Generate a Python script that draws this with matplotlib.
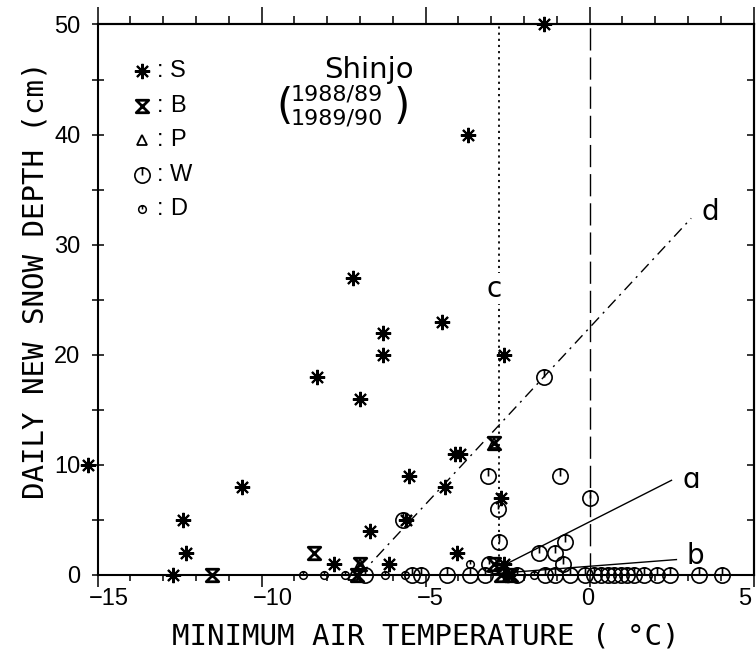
"""Snow depth vs minimum air temperature, Shinjo 1988/89-1989/90."""

import matplotlib

matplotlib.use("Agg")
import matplotlib.pyplot as plt
from matplotlib.path import Path
from matplotlib.ticker import MultipleLocator
from matplotlib.transforms import ScaledTranslation

# ---- data ----
s_temp = [-15.3, -12.7, -12.3, -12.4, -10.6, -8.3, -7.0, -7.2, -6.3, -6.3, -4.5,
          -3.7, -1.4, -2.6, -6.7, -5.5, -5.6, -4.4, -4.1, -3.95, -4.05, -2.7,
          -7.8, -6.1, -2.6, -2.5]
s_depth = [10, 0, 2, 5, 8, 18, 16, 27, 22, 20, 23,
           40, 50, 20, 4, 9, 5, 8, 11, 11, 2, 7,
           1, 1, 1, 0]

b_temp = [-11.5, -8.4, -7.0, -7.1, -2.9, -2.9, -2.7, -2.4]
b_depth = [0, 2, 1, 0, 12, 1, 0, 0]

p_temp = [-2.9, -7.0, -7.2]
p_depth = [12, 1, 0]

w_temp = [-5.7, -3.1, -0.9, -2.8, 0.0, -2.75, -0.75, -1.4, -1.55, -1.05, -0.8,
          -3.05, -6.85, -5.4, -5.15, -4.35, -3.65, -3.2, -2.2, -1.35, -1.05,
          -0.6, -0.15, 0.15, 0.35, 0.55, 0.75, 0.95, 1.15, 1.35, 1.65, 2.05,
          2.45, 3.35, 4.05]
w_depth = [5, 9, 9, 6, 7, 3, 3, 18, 2, 2, 1,
           1, 0, 0, 0, 0, 0, 0, 0, 0, 0,
           0, 0, 0, 0, 0, 0, 0, 0, 0, 0, 0,
           0, 0, 0]

d_temp = [-8.75, -8.1, -7.45, -6.25, -5.62, -3.65, -1.7]
d_depth = [0, 0, 0, 0, 0, 1, 0]

# regression / threshold lines
line_a_x = [-3.0, 2.5]
line_a_y = [0.3, 8.6]
line_b_x = [-3.0, 2.65]
line_b_y = [0.1, 1.4]
line_d_x = [-7.0, 3.1]
line_d_y = [0.0, 32.4]
line_c_x = -2.75
line_zero_x = 0.0

x_ticks = [-15, -10, -5, 0, 5]
x_ticklabels = ["\u221215", "\u221210", "\u22125", "0", "5"]
y_ticks = [0, 10, 20, 30, 40, 50]

# ---- markers ----
clock = Path.make_compound_path(
    Path.unit_circle(),
    Path([[0, 0], [0, 1]], [Path.MOVETO, Path.LINETO]),
)
hourglass = Path([[-1, 1], [1, 1], [-1, -1], [1, -1], [-1, 1]],
                 [Path.MOVETO, Path.LINETO, Path.LINETO, Path.LINETO, Path.CLOSEPOLY])
star = (8, 2, 0)

sty = dict(ls="none", color="black", mfc="none", clip_on=False, zorder=4)
sty_s = dict(marker=star, ms=11, mew=1.5, **sty)
sty_b = dict(marker=hourglass, ms=9, mew=2.0, **sty)
sty_p = dict(marker="^", ms=7, mew=1.3, **sty)
sty_w = dict(marker=clock, ms=11, mew=1.2, **sty)
sty_d = dict(marker=clock, ms=5.5, mew=1.1, **sty)

fig = plt.figure(figsize=(7.56, 6.56), dpi=100)
ax = fig.add_axes([0.129, 0.1235, 0.8677, 0.8392])

ax.plot(line_d_x, line_d_y, color="black", lw=1.0, ls=(0, (8, 4, 1.5, 4)))
ax.plot(line_a_x, line_a_y, color="black", lw=1.0)
ax.plot(line_b_x, line_b_y, color="black", lw=1.0)
ax.axvline(line_c_x, color="black", lw=1.3, ls=(0, (1.2, 2.2)))
ax.axvline(line_zero_x, color="black", lw=1.0, ls=(0, (16, 5)))

ax.plot(w_temp, w_depth, **sty_w)
ax.plot(d_temp, d_depth, **sty_d)
ax.plot(b_temp, b_depth, **sty_b)
ax.plot(p_temp, p_depth, **sty_p)
ax.plot(s_temp, s_depth, **sty_s)

lbl = dict(fontsize=20, family="DejaVu Sans", va="center")
ax.text(2.85, 8.6, "\u0251", **lbl)
ax.text(2.95, 1.7, "b", **lbl)
ax.text(3.4, 33.0, "d", **lbl)
ax.text(line_c_x - 0.15, 26.0, "c", ha="center",
        bbox=dict(fc="white", ec="none", pad=1), **lbl)

# legend drawn by hand
legend_rows = [("S", sty_s), ("B", sty_b), ("P", sty_p), ("W", sty_w), ("D", sty_d)]
for i, (name, st) in enumerate(legend_rows):
    yy = 0.915 - i * 0.0627
    st2 = dict(st)
    st2["transform"] = ax.transAxes
    ax.plot([0.0675], [yy], **st2)
    ax.text(0.096, yy, ":", transform=ax.transAxes, fontsize=17,
            family="Liberation Sans", va="center", ha="center")
    ax.text(0.111, yy, name, transform=ax.transAxes, fontsize=17,
            family="Liberation Sans", va="center")

ax.text(0.346, 0.917, "Shinjo", transform=ax.transAxes, fontsize=21,
        family="DejaVu Sans", va="center")
ax.text(0.272, 0.85, "(", transform=ax.transAxes, fontsize=30,
        family="DejaVu Sans", va="center")
ax.text(0.295, 0.872, "1988/89", transform=ax.transAxes, fontsize=16,
        family="DejaVu Sans", va="center")
ax.text(0.295, 0.83, "1989/90", transform=ax.transAxes, fontsize=16,
        family="DejaVu Sans", va="center")
ax.text(0.452, 0.85, ")", transform=ax.transAxes, fontsize=30,
        family="DejaVu Sans", va="center")

ax.set_xlim(-15, 5)
ax.set_ylim(0, 50)
ax.set_xticks(x_ticks, x_ticklabels)
ax.set_yticks(y_ticks)
ax.xaxis.set_minor_locator(MultipleLocator(1))
ax.yaxis.set_minor_locator(MultipleLocator(5))

for sp in ax.spines.values():
    sp.set_linewidth(1.5)

ax.tick_params(axis="x", which="major", direction="out", length=8.6, width=1.1,
               labelsize=17, pad=1)
ax.tick_params(axis="x", which="minor", direction="out", length=4.3, width=1.1)
ax.tick_params(axis="y", which="both", direction="inout", length=8.6, width=1.1,
               labelsize=17, pad=7.9)
for t in ax.get_xticklabels() + ax.get_yticklabels():
    t.set_family("Liberation Sans")
xlabels = ax.get_xticklabels()
for i, t in enumerate(xlabels):
    shift = -8.5 if i < len(xlabels) - 1 else -15
    t.set_horizontalalignment("left")
    t.set_transform(t.get_transform() + ScaledTranslation(shift / 100, 0, fig.dpi_scale_trans))

top = ax.secondary_xaxis("top")
top.xaxis.set_major_locator(MultipleLocator(5))
top.xaxis.set_minor_locator(MultipleLocator(1))
top.tick_params(which="major", direction="out", length=11.9, width=1.1, labeltop=False)
top.tick_params(which="minor", direction="out", length=5.8, width=1.1)
top.spines["top"].set_linewidth(1.5)

right = ax.secondary_yaxis("right")
right.yaxis.set_major_locator(MultipleLocator(5))
right.yaxis.set_minor_locator(MultipleLocator(5))
right.tick_params(which="both", direction="in", length=5, width=1.1, labelright=False)
right.spines["right"].set_linewidth(1.5)

ax.set_xlabel("MINIMUM AIR TEMPERATURE ( \u00b0C)", family="DejaVu Sans Mono",
              fontsize=21)
ax.xaxis.set_label_coords(0.5, -0.111)
ax.xaxis.label.set_va("center")
ax.set_ylabel("DAILY NEW SNOW DEPTH (cm)", family="DejaVu Sans Mono", fontsize=21)
ax.yaxis.set_label_coords(-0.094, 0.535)
ax.yaxis.label.set_va("center")

fig.savefig("out.png", dpi=100)
